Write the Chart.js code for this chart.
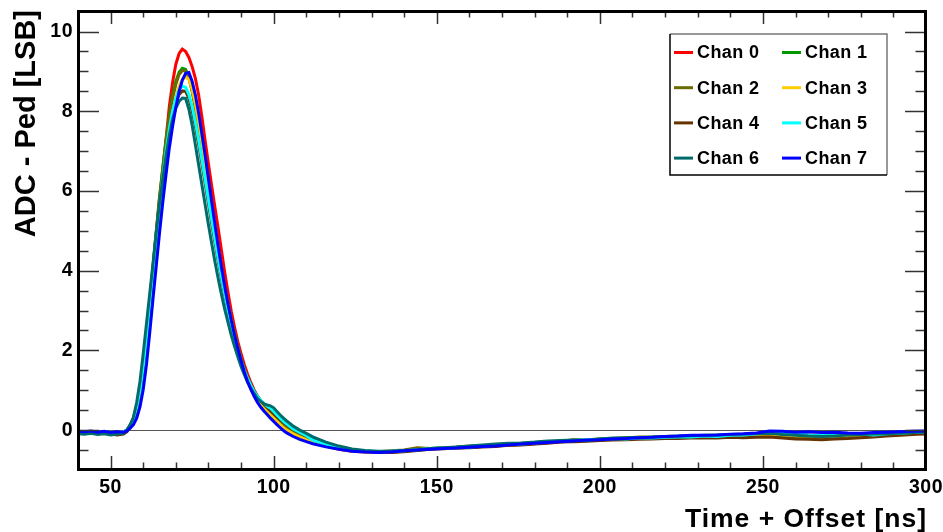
<!DOCTYPE html>
<html>
<head>
<meta charset="utf-8">
<script src="https://cdn.jsdelivr.net/npm/chart.js@4/dist/chart.umd.min.js"></script>
<style>
  html, body { margin: 0; padding: 0; background: #fff; }
  #wrap { width: 943px; height: 532px; }
</style>
</head>
<body>
<div id="wrap"><canvas id="pulseChart" width="943" height="532"></canvas></div>
<script>
// sample times [ns], shared by all channels
const times = [
  40, 42, 44, 46, 48, 50, 52,
  54, 55, 56, 57, 58, 59, 60, 61, 62, 63, 64, 65, 66, 67, 68, 69, 70, 71, 72, 73,
  74, 75, 76, 77, 78, 79, 80, 81, 82, 83, 84, 85, 86, 87, 88, 89, 90, 91, 92, 93,
  94, 95, 96, 97, 98, 99, 100, 101, 102, 103, 104,
  106, 108, 110,
  112, 116, 120, 124, 128, 132, 136, 140, 144, 148, 152, 156, 160, 164, 168, 172,
  176, 180, 184, 188, 192, 196, 200, 204, 208, 212, 216, 220, 224, 228, 232, 236,
  240, 244, 248, 252, 256, 260, 264, 268, 272, 276, 280, 284, 288, 292, 296, 300
];

const chan0 = [
  -0.06, -0.05, -0.07, -0.05, -0.06, -0.07, -0.05,
  -0.04, 0.01, 0.12, 0.3, 0.6, 1.02, 1.62, 2.4, 3.25, 4.1, 4.98, 5.85, 6.55, 7.3, 8.12, 8.72, 9.18, 9.45, 9.56, 9.5,
  9.35, 9.12, 8.82, 8.4, 7.85, 7.25, 6.68, 6.12, 5.58, 5.05, 4.5, 3.95, 3.45, 2.98, 2.58, 2.22, 1.92, 1.64, 1.4, 1.19,
  1.01, 0.86, 0.73, 0.63, 0.54, 0.46, 0.37, 0.29, 0.21, 0.13, 0.06,
  -0.05, -0.14, -0.22,
  -0.3, -0.4, -0.48, -0.53, -0.55, -0.56, -0.55, -0.53, -0.5, -0.47, -0.46, -0.45, -0.43, -0.41, -0.39, -0.38,
  -0.36, -0.34, -0.31, -0.29, -0.27, -0.25, -0.24, -0.23, -0.22, -0.2, -0.19, -0.19, -0.17, -0.16, -0.16, -0.15,
  -0.14, -0.13, -0.11, -0.09, -0.1, -0.11, -0.13, -0.12, -0.13, -0.1, -0.11, -0.1, -0.09, -0.1, -0.08, -0.1
];
const chan1 = [
  -0.05, -0.06, -0.05, -0.07, -0.06, -0.05, -0.06,
  -0.05, 0.0, 0.12, 0.3, 0.6, 1.02, 1.6, 2.38, 3.22, 4.1, 4.98, 5.82, 6.6, 7.3, 7.9, 8.4, 8.75, 8.98, 9.08, 9.05,
  8.85, 8.52, 8.1, 7.62, 7.1, 6.57, 6.03, 5.5, 4.98, 4.48, 4.0, 3.55, 3.13, 2.76, 2.4, 2.08, 1.78, 1.52, 1.3, 1.1,
  0.94, 0.8, 0.68, 0.59, 0.51, 0.43, 0.35, 0.27, 0.19, 0.11, 0.04,
  -0.06, -0.14, -0.21,
  -0.28, -0.38, -0.46, -0.51, -0.54, -0.55, -0.54, -0.51, -0.48, -0.47, -0.44, -0.43, -0.41, -0.4, -0.37, -0.36,
  -0.33, -0.31, -0.29, -0.28, -0.25, -0.24, -0.22, -0.22, -0.2, -0.2, -0.18, -0.17, -0.18, -0.15, -0.15, -0.14,
  -0.12, -0.13, -0.11, -0.08, -0.09, -0.11, -0.13, -0.14, -0.13, -0.12, -0.1, -0.11, -0.09, -0.08, -0.07, -0.06
];
const chan2 = [
  -0.07, -0.06, -0.08, -0.06, -0.07, -0.08, -0.07,
  -0.06, -0.01, 0.1, 0.28, 0.57, 0.98, 1.56, 2.32, 3.15, 4.02, 4.9, 5.74, 6.52, 7.22, 7.82, 8.32, 8.68, 8.92, 9.02, 9.01,
  8.84, 8.5, 8.08, 7.6, 7.08, 6.55, 6.02, 5.48, 4.96, 4.47, 4.0, 3.56, 3.15, 2.78, 2.43, 2.1, 1.8, 1.54, 1.31, 1.12,
  0.95, 0.81, 0.7, 0.61, 0.53, 0.45, 0.37, 0.29, 0.21, 0.14, 0.07,
  -0.04, -0.12, -0.2,
  -0.27, -0.37, -0.45, -0.5, -0.53, -0.54, -0.52, -0.5, -0.44, -0.46, -0.44, -0.43, -0.4, -0.39, -0.38, -0.35,
  -0.34, -0.32, -0.29, -0.27, -0.25, -0.25, -0.22, -0.21, -0.2, -0.19, -0.2, -0.18, -0.18, -0.16, -0.15, -0.16,
  -0.14, -0.15, -0.13, -0.12, -0.14, -0.16, -0.17, -0.18, -0.17, -0.15, -0.13, -0.12, -0.1, -0.09, -0.08, -0.07
];
const chan3 = [
  -0.05, -0.04, -0.06, -0.08, -0.05, -0.06, -0.08,
  -0.07, -0.03, 0.06, 0.2, 0.42, 0.78, 1.3, 2.0, 2.8, 3.65, 4.5, 5.32, 6.1, 6.8, 7.42, 7.95, 8.35, 8.63, 8.8, 8.86,
  8.8, 8.55, 8.18, 7.72, 7.22, 6.68, 6.12, 5.57, 5.02, 4.5, 4.0, 3.53, 3.1, 2.7, 2.33, 2.0, 1.7, 1.44, 1.22, 1.03,
  0.87, 0.74, 0.63, 0.54, 0.46, 0.38, 0.3, 0.22, 0.14, 0.06, 0.0,
  -0.09, -0.17, -0.24,
  -0.31, -0.4, -0.47, -0.52, -0.54, -0.55, -0.56, -0.52, -0.5, -0.46, -0.45, -0.44, -0.43, -0.39, -0.38, -0.37,
  -0.35, -0.33, -0.3, -0.28, -0.27, -0.24, -0.25, -0.22, -0.2, -0.17, -0.18, -0.17, -0.16, -0.17, -0.14, -0.15,
  -0.13, -0.12, -0.11, -0.1, -0.12, -0.14, -0.15, -0.14, -0.16, -0.13, -0.12, -0.13, -0.11, -0.12, -0.09, -0.08
];
const chan4 = [
  -0.08, -0.07, -0.06, -0.09, -0.08, -0.1, -0.12,
  -0.1, -0.04, 0.08, 0.26, 0.56, 0.98, 1.55, 2.3, 3.12, 3.97, 4.8, 5.6, 6.32, 6.95, 7.5, 7.92, 8.22, 8.42, 8.51, 8.5,
  8.32, 8.02, 7.62, 7.16, 6.68, 6.18, 5.68, 5.18, 4.7, 4.23, 3.8, 3.38, 3.0, 2.65, 2.33, 2.03, 1.76, 1.52, 1.32, 1.14,
  0.98, 0.85, 0.74, 0.65, 0.57, 0.49, 0.41, 0.33, 0.26, 0.19, 0.13,
  0.02, -0.07, -0.15,
  -0.24, -0.34, -0.43, -0.49, -0.53, -0.55, -0.56, -0.54, -0.51, -0.48, -0.47, -0.45, -0.44, -0.42, -0.41, -0.38,
  -0.37, -0.35, -0.33, -0.3, -0.29, -0.28, -0.26, -0.25, -0.24, -0.23, -0.22, -0.21, -0.21, -0.2, -0.19, -0.2,
  -0.18, -0.19, -0.18, -0.17, -0.2, -0.22, -0.23, -0.24, -0.22, -0.21, -0.19, -0.17, -0.15, -0.13, -0.11, -0.09
];
const chan5 = [
  -0.04, -0.05, -0.06, -0.04, -0.07, -0.05, -0.06,
  -0.04, 0.01, 0.11, 0.28, 0.58, 1.0, 1.58, 2.33, 3.15, 4.0, 4.83, 5.62, 6.35, 7.0, 7.56, 8.0, 8.32, 8.53, 8.63, 8.6,
  8.42, 8.12, 7.72, 7.27, 6.78, 6.28, 5.78, 5.28, 4.78, 4.3, 3.85, 3.42, 3.02, 2.66, 2.32, 2.02, 1.74, 1.5, 1.3, 1.12,
  0.97, 0.85, 0.75, 0.67, 0.6, 0.55, 0.47, 0.38, 0.3, 0.22, 0.15,
  0.03, -0.06, -0.14,
  -0.25, -0.35, -0.43, -0.49, -0.52, -0.54, -0.53, -0.52, -0.49, -0.46, -0.45, -0.44, -0.42, -0.4, -0.38, -0.36,
  -0.35, -0.32, -0.3, -0.27, -0.26, -0.24, -0.23, -0.21, -0.22, -0.19, -0.2, -0.18, -0.17, -0.17, -0.15, -0.16,
  -0.13, -0.12, -0.1, -0.06, -0.08, -0.1, -0.12, -0.13, -0.12, -0.11, -0.1, -0.12, -0.09, -0.08, -0.06, -0.05
];
const chan6 = [
  -0.09, -0.1, -0.08, -0.11, -0.09, -0.12, -0.1,
  -0.08, 0.0, 0.14, 0.32, 0.7, 1.22, 1.92, 2.68, 3.43, 4.18, 4.96, 5.7, 6.3, 6.88, 7.4, 7.8, 8.08, 8.25, 8.33, 8.32,
  8.05, 7.65, 7.15, 6.65, 6.15, 5.65, 5.15, 4.68, 4.22, 3.8, 3.4, 3.03, 2.7, 2.38, 2.1, 1.84, 1.6, 1.39, 1.2, 1.05,
  0.92, 0.8, 0.72, 0.66, 0.63, 0.61, 0.56, 0.47, 0.38, 0.3, 0.23,
  0.1, 0.0, -0.08,
  -0.17, -0.3, -0.4, -0.47, -0.51, -0.53, -0.53, -0.51, -0.49, -0.46, -0.44, -0.42, -0.4, -0.37, -0.35, -0.33,
  -0.32, -0.3, -0.27, -0.26, -0.25, -0.26, -0.22, -0.2, -0.19, -0.18, -0.17, -0.16, -0.15, -0.14, -0.13, -0.12,
  -0.11, -0.1, -0.09, -0.08, -0.11, -0.13, -0.15, -0.16, -0.15, -0.12, -0.11, -0.1, -0.09, -0.08, -0.06, -0.05
];
const chan7 = [
  -0.03, -0.04, -0.02, -0.05, -0.03, -0.06, -0.04,
  -0.05, -0.02, 0.05, 0.14, 0.3, 0.58, 1.02, 1.65, 2.45, 3.3, 4.12, 4.95, 5.72, 6.42, 7.08, 7.62, 8.1, 8.5, 8.78, 8.95,
  8.97, 8.75, 8.4, 7.95, 7.42, 6.88, 6.3, 5.72, 5.15, 4.6, 4.08, 3.6, 3.15, 2.75, 2.38, 2.05, 1.74, 1.46, 1.22, 1.02,
  0.85, 0.7, 0.58, 0.48, 0.39, 0.3, 0.22, 0.14, 0.06, -0.01, -0.07,
  -0.16, -0.23, -0.29,
  -0.34, -0.42, -0.48, -0.53, -0.55, -0.56, -0.55, -0.52, -0.5, -0.48, -0.46, -0.45, -0.43, -0.41, -0.4, -0.37,
  -0.35, -0.33, -0.31, -0.29, -0.27, -0.25, -0.24, -0.22, -0.21, -0.19, -0.18, -0.16, -0.15, -0.13, -0.13, -0.12,
  -0.1, -0.09, -0.07, -0.02, -0.03, -0.05, -0.04, -0.06, -0.05, -0.07, -0.08, -0.06, -0.05, -0.04, -0.03, -0.02
];

const labels = ['Chan 0', 'Chan 1', 'Chan 2', 'Chan 3', 'Chan 4', 'Chan 5', 'Chan 6', 'Chan 7'];
const colors = ['#ff0000', '#009900', '#6b6b00', '#ffcc00', '#663300', '#00ffff', '#006b6b', '#0000ff'];
const channels = [chan0, chan1, chan2, chan3, chan4, chan5, chan6, chan7];

const xTicks = [50, 100, 150, 200, 250, 300];
const yTicks = [0, 2, 4, 6, 8, 10];
const xTitle = 'Time + Offset [ns]';
const yTitle = 'ADC - Ped [LSB]';

const FONT = '"Liberation Sans", Arial, Helvetica, sans-serif';

// ROOT style frame: thick box, inward ticks on all four sides, zero line, titles, legend box
const rootFrame = {
    id: 'rootFrame',
    beforeDraw(chart) {
        // the reference digits are drawn a touch wider than plain Helvetica
        chart.ctx.letterSpacing = '0.5px';
    },
    beforeDatasetsDraw(chart) {
        const { ctx, chartArea: a, scales: { y } } = chart;
        const py = Math.round(y.getPixelForValue(0)) + 0.5;
        ctx.save();
        ctx.strokeStyle = '#555';
        ctx.lineWidth = 1.2;
        ctx.beginPath();
        ctx.moveTo(a.left, py);
        ctx.lineTo(a.right, py);
        ctx.stroke();
        ctx.restore();
    },
    afterDatasetsDraw(chart) {
        const { ctx, chartArea: a, scales: { x, y } } = chart;
        ctx.save();
        ctx.strokeStyle = '#333';
        ctx.lineWidth = 1.5;
        ctx.beginPath();
        for (let v = 50; v < 300; v += 10) {
            const px = Math.round(x.getPixelForValue(v)) + 0.5;
            const len = xTicks.includes(v) ? 14 : 7.5;
            ctx.moveTo(px, a.bottom); ctx.lineTo(px, a.bottom - len);
            ctx.moveTo(px, a.top); ctx.lineTo(px, a.top + len);
        }
        for (let v = -0.5; v <= 10.25; v += 0.5) {
            const py = Math.round(y.getPixelForValue(v)) + 0.5;
            const len = yTicks.includes(v) ? 21 : 10.5;
            ctx.moveTo(a.left, py); ctx.lineTo(a.left + len, py);
            ctx.moveTo(a.right, py); ctx.lineTo(a.right - len, py);
        }
        ctx.stroke();
        ctx.strokeStyle = '#000';
        ctx.lineWidth = 3;
        ctx.strokeRect(a.left + 0.5, a.top + 1.5, a.right - a.left - 1, a.bottom - a.top - 2);
        ctx.restore();
    },
    afterDraw(chart) {
        const { ctx, chartArea: a } = chart;
        ctx.save();
        ctx.fillStyle = '#000';
        // axis titles
        ctx.letterSpacing = '1px';
        ctx.font = 'bold 26.5px ' + FONT;
        ctx.textAlign = 'right';
        ctx.textBaseline = 'alphabetic';
        ctx.fillText(xTitle, a.right + 1, 527);
        ctx.letterSpacing = '0px';
        ctx.save();
        ctx.translate(35, a.top);
        ctx.rotate(-Math.PI / 2);
        ctx.font = 'bold 29px ' + FONT;
        ctx.fillText(yTitle, 0, 0);
        ctx.restore();

        // legend
        const bx = 670, by = 34, bw = 217, bh = 141;
        ctx.fillStyle = '#fff';
        ctx.fillRect(bx, by, bw, bh);
        ctx.lineWidth = 1.5;
        ctx.strokeStyle = '#777';
        ctx.beginPath();
        ctx.moveTo(bx, by); ctx.lineTo(bx + bw, by); ctx.lineTo(bx + bw, by + bh);
        ctx.stroke();
        ctx.strokeStyle = '#000';
        ctx.beginPath();
        ctx.moveTo(bx + bw, by + bh); ctx.lineTo(bx, by + bh); ctx.lineTo(bx, by);
        ctx.stroke();
        ctx.font = 'bold 18px ' + FONT;
        ctx.letterSpacing = '0.4px';
        ctx.textAlign = 'left';
        ctx.textBaseline = 'middle';
        ctx.fillStyle = '#000';
        chart.data.datasets.forEach((ds, i) => {
            const col = i % 2, row = Math.floor(i / 2);
            const lx = col ? 782 : 674;
            const ly = 52.5 + row * 35.2;
            ctx.strokeStyle = ds.borderColor;
            ctx.lineWidth = 3;
            ctx.beginPath();
            ctx.moveTo(lx, ly); ctx.lineTo(lx + 19, ly);
            ctx.stroke();
            ctx.fillText(ds.label, lx + 23, ly + 1);
        });
        ctx.restore();
    }
};

new Chart(document.getElementById('pulseChart'), {
    type: 'line',
    data: {
        datasets: channels.map((vals, i) => ({
            label: labels[i],
            data: times.map((t, k) => ({ x: t, y: vals[k] })),
            borderColor: colors[i],
            backgroundColor: colors[i],
            borderWidth: 3,
            pointRadius: 0,
            tension: 0,
            fill: false,
            order: 7 - i
        }))
    },
    options: {
        responsive: false,
        animation: false,
        devicePixelRatio: 1,
        layout: { padding: { top: 10, right: 17, left: 0, bottom: 0 } },
        plugins: {
            legend: { display: false },
            tooltip: { enabled: false }
        },
        scales: {
            x: {
                type: 'linear',
                min: 40,
                max: 300,
                afterFit: (scale) => {
                    scale.height = 62;
                    scale.paddingLeft = 0;
                    scale.paddingRight = 0;
                },
                afterBuildTicks: (scale) => { scale.ticks = xTicks.map(v => ({ value: v })); },
                grid: { display: false, drawTicks: false },
                border: { display: false },
                ticks: {
                    color: '#000',
                    padding: 6,
                    maxRotation: 0,
                    font: { family: FONT, size: 19.5, weight: 'bold' }
                }
            },
            y: {
                type: 'linear',
                min: -1,
                max: 10.54,
                afterFit: (scale) => {
                    scale.width = 78;
                    scale.paddingTop = 0;
                    scale.paddingBottom = 0;
                },
                afterBuildTicks: (scale) => { scale.ticks = yTicks.map(v => ({ value: v })); },
                grid: { display: false, drawTicks: false },
                border: { display: false },
                ticks: {
                    color: '#000',
                    padding: 5,
                    font: { family: FONT, size: 19.5, weight: 'bold' }
                }
            }
        }
    },
    plugins: [rootFrame]
});
</script>
</body>
</html>
